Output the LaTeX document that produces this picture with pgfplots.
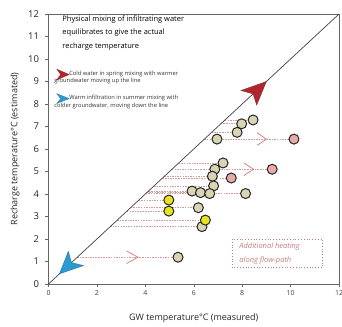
\documentclass[border=0pt]{standalone}
\usepackage{fontspec}
\setmainfont{Open Sans}
\usepackage{pgfplots}
\pgfplotsset{compat=1.18}
\definecolor{dashc}{HTML}{D49A9A}
\definecolor{chevc}{HTML}{D08585}
\definecolor{beige}{HTML}{D9D4B4}
\definecolor{yel}{HTML}{E9E21E}
\definecolor{pinkp}{HTML}{E8A9A9}
\definecolor{redarr}{HTML}{B0262E}
\definecolor{bluearr}{HTML}{2A9AD2}
\definecolor{boxc}{HTML}{C47C7C}
\begin{document}
\begin{tikzpicture}
\begin{axis}[
  scale only axis, width=290.5bp, height=270bp,
  xmin=0, xmax=12, ymin=0, ymax=12,
  xtick={0,2,...,12}, ytick={0,1,...,12},
  tick align=outside, tick pos=left, major tick length=3bp,
  axis line style={black!60, line width=0.6pt},
  tick style={black!60, line width=0.5pt},
  /pgf/number format/assume math mode=true,
  xticklabel style={font=\fontsize{7}{8}\selectfont, text=black!75},
  yticklabel style={font=\fontsize{9.5}{10}\selectfont, text=black!85, xshift=-3bp},
  xlabel={GW temperature°C (measured)},
  ylabel={Recharge temperature°C (estimated)},
  label style={font=\fontsize{9}{10}\selectfont, text=black!85},
  xlabel style={at={(axis description cs:0.5,-0.126)}, anchor=center},
  ylabel style={at={(axis description cs:-0.115,0.5)}, anchor=center},
  clip=false,
]
% dashed horizontal lines from the 1:1 line to each point
\addplot[dashc, line width=0.8pt, dash pattern=on 1.5pt off 1.1pt, unbounded coords=jump] coordinates {
(7.29,7.29)(8.45,7.29) (nan,nan)
(7.12,7.12)(7.98,7.12) (nan,nan)
(6.74,6.74)(7.79,6.74) (nan,nan)
(6.44,6.44)(10.14,6.44) (nan,nan)
(5.38,5.38)(7.21,5.38) (nan,nan)
(5.10,5.10)(9.24,5.10) (nan,nan)
(4.79,4.79)(6.77,4.79) (nan,nan)
(4.71,4.71)(7.55,4.71) (nan,nan)
(4.36,4.36)(6.82,4.36) (nan,nan)
(4.13,4.13)(5.93,4.13) (nan,nan)
(4.06,4.06)(6.28,4.06) (nan,nan)
(4.02,4.02)(8.14,4.02) (nan,nan)
(3.73,3.73)(4.97,3.73) (nan,nan)
(3.39,3.39)(6.19,3.39) (nan,nan)
(3.24,3.24)(4.97,3.24) (nan,nan)
(2.84,2.84)(6.48,2.84) (nan,nan)
(2.55,2.55)(6.34,2.55) (nan,nan)
(1.19,1.19)(5.35,1.19)
};
% open chevrons
\addplot[chevc, line width=0.8pt, no marks, unbounded coords=jump] coordinates {
(8.62,6.72)(9.0,6.44)(8.62,6.16) (nan,nan)
(8.07,5.38)(8.47,5.10)(8.07,4.82) (nan,nan)
(3.22,1.47)(3.70,1.19)(3.22,0.91)
};
% 1:1 line
\addplot[black!75, line width=0.7pt, no marks] coordinates {(0,0)(12,12)};
% big arrowheads
\addplot[fill=redarr, draw=redarr!80!black, line width=0.3pt, no marks] coordinates {(9.0,9.0)(7.95,8.6)(8.45,8.45)(8.6,7.95)} -- cycle;
\addplot[fill=bluearr, draw=bluearr!70!black, line width=0.3pt, no marks] coordinates {(0.45,0.45)(0.82,1.45)(0.95,0.95)(1.45,0.82)} -- cycle;
% legend icons
\addplot[fill=redarr, draw=redarr!80!black, line width=0.2pt, no marks] coordinates {(0.86,9.31)(0.34,9.55)(0.5,9.31)(0.34,9.07)} -- cycle;
\addplot[fill=bluearr, draw=bluearr!70!black, line width=0.2pt, no marks] coordinates {(0.86,8.24)(0.34,8.46)(0.5,8.24)(0.34,8.02)} -- cycle;
% points
\addplot[only marks, mark=*, mark size=5bp, mark options={fill=beige, draw=black!85, line width=1pt}] coordinates {
(8.45,7.29)(7.98,7.12)(7.79,6.74)(6.96,6.44)(7.21,5.38)(6.87,5.10)(6.77,4.79)
(6.82,4.36)(5.93,4.13)(6.28,4.06)(6.66,4.02)(8.14,4.02)(6.19,3.39)(6.34,2.55)(5.35,1.19)};
\addplot[only marks, mark=*, mark size=5bp, mark options={fill=pinkp, draw=black!85, line width=1pt}] coordinates {
(10.14,6.44)(9.24,5.10)(7.55,4.71)};
\addplot[only marks, mark=*, mark size=5bp, mark options={fill=yel, draw=black!85, line width=1pt}] coordinates {
(4.97,3.73)(4.97,3.24)(6.48,2.84)};
% texts
\node[anchor=north west, align=left, inner sep=0pt, font=\fontsize{7.5}{13.3}\selectfont, text=black]
  at (axis cs:0.57,11.92) {Physical mixing of infiltrating water\\equilibrates to give the actual\\recharge temperature};
\node[anchor=north west, align=left, inner sep=0pt, font=\fontsize{5.8}{7.5}\selectfont, text=black!80]
  at (axis cs:0.23,9.47) {\hspace{15bp}Cold water in spring mixing with warmer\\groundwater moving up the line};
\node[anchor=north west, align=left, inner sep=0pt, font=\fontsize{5.8}{7.5}\selectfont, text=black!80]
  at (axis cs:0.23,8.40) {\hspace{15bp}Warm infiltration in summer mixing with\\colder groundwater, moving down the line};
\draw[boxc, line width=0.8pt, dotted] (axis cs:7.6,2.0) rectangle (axis cs:11.3,0.72);
\node[anchor=west, align=left, inner sep=0pt, font=\fontsize{7.5}{13.5}\selectfont\itshape, text=boxc]
  at (axis cs:7.88,1.35) {Additional heating\\along flow-path};
\end{axis}
\pgfresetboundingbox
\path (-48.5bp,-43bp) rectangle (293.5bp,284bp);
\end{tikzpicture}
\end{document}
